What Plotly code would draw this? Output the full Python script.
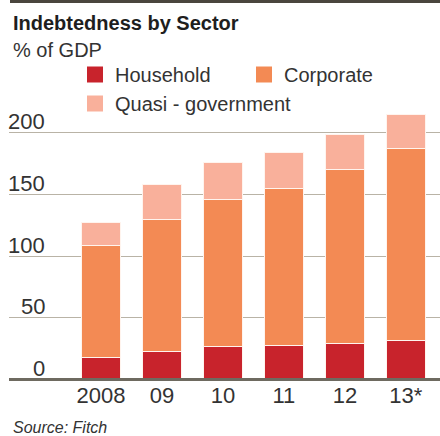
import plotly.graph_objects as go

# Debt by sector, % of GDP
years = ["2008", "09", "10", "11", "12", "13*"]
household = [18, 23, 27, 28, 29, 32]
corporate = [91, 107, 119, 127, 141, 155]
quasi_gov = [18, 28, 30, 29, 29, 28]

series_names = ["Household", "Corporate", "Quasi - government"]
series_colors = ["#c8232c", "#f38a54", "#f9b09b"]
y_ticks = [0, 50, 100, 150, 200]

FONT = "Liberation Sans, Arial, sans-serif"
TEXT = "#333333"

W, H = 440, 436
M_L, M_R, M_T, M_B = 9, 0, 100, 54
PLOT_H = H - M_T - M_B
Y_MIN = -2
Y_MAX = Y_MIN + PLOT_H / 1.2335


def py(page_y):
    """Page pixel row -> paper y."""
    return (H - M_B - page_y) / PLOT_H


def px(page_x):
    """Page pixel column -> paper x."""
    return (page_x - M_L) / (W - M_L - M_R)


fig = go.Figure()
for name, vals, col in zip(series_names, [household, corporate, quasi_gov], series_colors):
    fig.add_trace(go.Bar(
        x=years, y=vals, name=name, legendgroup=name, showlegend=False,
        marker=dict(color=col, line=dict(color="#fff4ee", width=1)),
    ))
# legend keys: larger square swatches tied to each bar series
for name, col in zip(series_names, series_colors):
    fig.add_trace(go.Scatter(
        x=[None], y=[None], name=name, legendgroup=name, mode="markers",
        marker=dict(symbol="square", size=16, color=col),
    ))

annotations = [
    dict(text="<b>Indebtedness by Sector</b>", x=px(11), y=py(23), xref="paper", yref="paper",
         xanchor="left", yanchor="middle", showarrow=False,
         font=dict(family=FONT, size=20, color="#1e1e1e")),
    dict(text="% of GDP", x=px(11), y=py(50), xref="paper", yref="paper",
         xanchor="left", yanchor="middle", showarrow=False,
         font=dict(family=FONT, size=20, color=TEXT)),
    dict(text="<i>Source: Fitch</i>", x=px(11), y=py(427), xref="paper", yref="paper",
         xanchor="left", yanchor="middle", showarrow=False,
         font=dict(family=FONT, size=16, color=TEXT)),
]
for t in y_ticks:
    annotations.append(dict(
        text=str(t), x=px(47), y=t, xref="paper", yref="y",
        xanchor="right", yanchor="middle", yshift=11, showarrow=False,
        font=dict(family=FONT, size=22, color=TEXT)))

shapes = [
    # rule across the top of the graphic
    dict(type="line", xref="paper", yref="paper", x0=px(10), x1=1, y0=py(1.5), y1=py(1.5),
         line=dict(color="#4a463e", width=3)),
    # baseline
    dict(type="line", xref="paper", yref="y", x0=0, x1=1, y0=0, y1=0,
         line=dict(color="#6e6a60", width=3), layer="above"),
]

fig.update_layout(
    width=W, height=H,
    margin=dict(l=M_L, r=M_R, t=M_T, b=M_B, pad=0),
    paper_bgcolor="white", plot_bgcolor="white",
    barmode="stack", bargap=0.37,
    font=dict(family=FONT, size=20, color=TEXT),
    showlegend=True,
    legend=dict(
        orientation="h", traceorder="normal", itemsizing="trace",
        x=px(75), xanchor="left", y=py(55), yanchor="top",
        entrywidth=124, entrywidthmode="pixels",
        font=dict(family=FONT, size=20, color=TEXT),
        bgcolor="rgba(0,0,0,0)", borderwidth=0,
    ),
    xaxis=dict(
        type="category", range=[-1.51, 5.56], showgrid=False, zeroline=False,
        showline=False, ticks="", ticklabelstandoff=-2,
        tickfont=dict(family=FONT, size=22, color=TEXT),
    ),
    yaxis=dict(
        range=[Y_MIN, Y_MAX], tickvals=y_ticks, showticklabels=False,
        showgrid=True, gridcolor="#b9b3a6", gridwidth=1, zeroline=False, showline=False,
    ),
    annotations=annotations,
    shapes=shapes,
)

fig.write_html("out.html")
